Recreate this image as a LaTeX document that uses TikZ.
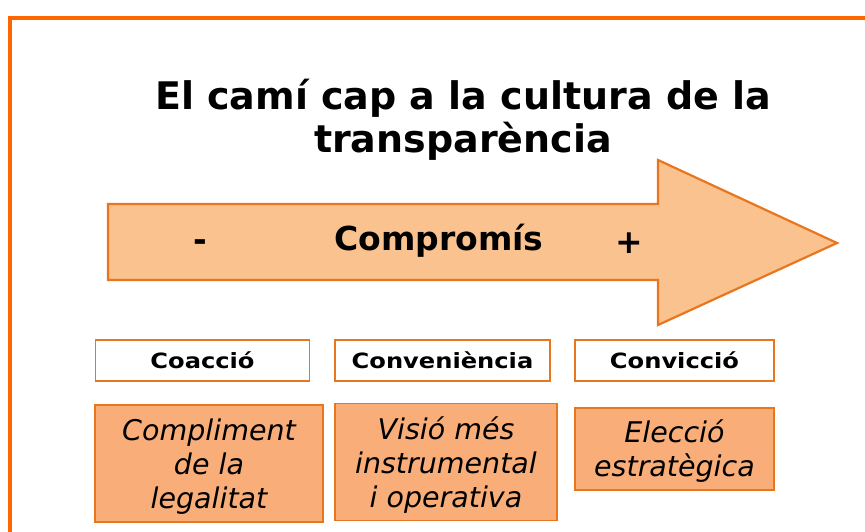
\documentclass[tikz,border=0pt]{standalone}
\usepackage{fontspec}
\setmainfont{DejaVu Sans}
\newfontfamily\widefont[FakeStretch=1.15]{DejaVu Sans}
\definecolor{frameor}{HTML}{FF6600}
\definecolor{arrowfill}{HTML}{FAC28F}
\definecolor{arrowline}{HTML}{E8761F}
\definecolor{boxfill}{HTML}{F9AE7A}
\begin{document}
\begin{tikzpicture}[x=1pt,y=-1pt,
  labelbox/.style={draw=arrowline,line width=1.6pt,fill=white,minimum height=41pt,inner sep=0pt,font=\widefont\fontsize{21}{24}\selectfont\bfseries},
  descbox/.style={draw=arrowline,line width=1.6pt,fill=boxfill,inner sep=0pt,align=center,font=\fontsize{28.5}{34}\selectfont\itshape}]
\useasboundingbox (0,0) rectangle (865,532);
\clip (0,0) rectangle (865,532);
\draw[frameor,line width=3.5pt] (10,18) rectangle (900,600);
% title
\node[font=\fontsize{38}{43}\selectfont\bfseries,align=center] (title) at (463,120)
  {El camí cap a la cultura de la\\transparència};
% arrow
\draw[arrowline,line width=2.2pt,fill=arrowfill,line join=miter]
  (108,204) -- (658,204) -- (658,160) -- (837,243) -- (658,325) -- (658,280) -- (108,280) -- cycle;
\node[font=\fontsize{33}{36}\selectfont\bfseries] (minus) at (200,246) {-};
\node[font=\fontsize{33}{36}\selectfont\bfseries] (comp) at (439,241) {Compromís};
\node[font=\fontsize{33}{36}\selectfont\bfseries] (plus) at (629,243) {+};
% label boxes
\node[labelbox,minimum width=214pt] (coa) at (202.5,360.5) {Coacció};
\node[labelbox,minimum width=215pt] (conv) at (442.5,360.5) {Conveniència};
\node[labelbox,minimum width=199pt] (convi) at (674.5,360.5) {Convicció};
% description boxes
\node[descbox,minimum width=228pt,minimum height=117pt] (cl) at (209,463.5) {};
\node[font=\fontsize{28.5}{34}\selectfont\itshape,align=center] (clt) at (209,466.5) {Compliment\\de la\\legalitat};
\node[descbox,minimum width=222pt,minimum height=117pt] (vm) at (446,462) {};
\node[font=\fontsize{28.5}{34}\selectfont\itshape,align=center] (vmt) at (446,465) {Visió més\\instrumental\\i operativa};
\node[descbox,minimum width=199pt,minimum height=82pt] (ee) at (674.5,449) {};
\node[font=\fontsize{28.5}{34}\selectfont\itshape,align=center] (eet) at (674.5,451) {Elecció\\estratègica};
\end{tikzpicture}
\end{document}
